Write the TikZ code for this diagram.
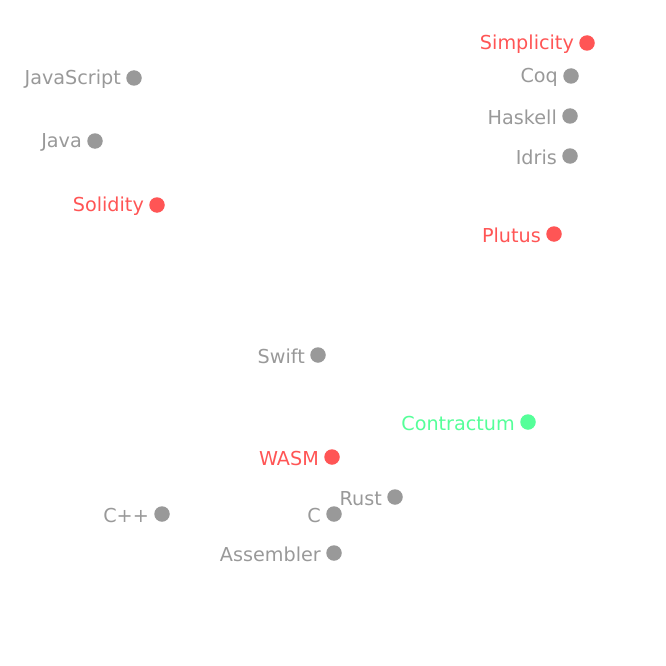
\documentclass[tikz,border=0pt]{standalone}
\usepackage{fontspec}
\setmainfont{DejaVu Sans}
\usetikzlibrary{positioning}
\definecolor{lgGray}{RGB}{153,153,153}
\definecolor{lgRed}{RGB}{255,85,85}
\definecolor{lgGreen}{RGB}{85,255,153}
\tikzset{
  dot/.style={circle, fill=#1, inner sep=0pt, minimum size=15.5pt},
  lbl/.style={text=#1, font=\fontsize{19.2}{21}\selectfont, inner sep=0pt, anchor=east, yshift=-1.5pt}
}

\begin{document}
\begin{tikzpicture}[x=1pt, y=-1pt]
  \useasboundingbox (0,0) rectangle (666,666);

  % upper left
  \node[dot=lgGray] (js) at (134,78) {};
  \node[lbl=lgGray, left=5pt of js] (jsL) {JavaScript};
  \node[dot=lgGray] (java) at (95,141) {};
  \node[lbl=lgGray, left=5pt of java] (javaL) {Java};
  \node[dot=lgRed] (sol) at (157,205) {};
  \node[lbl=lgRed, left=5pt of sol] (solL) {Solidity};

  % upper right
  \node[dot=lgRed] (simp) at (587,43) {};
  \node[lbl=lgRed, left=5pt of simp] (simpL) {Simplicity};
  \node[dot=lgGray] (coq) at (571,76) {};
  \node[lbl=lgGray, left=5pt of coq] (coqL) {Coq};
  \node[dot=lgGray] (hask) at (570,116) {};
  \node[lbl=lgGray, left=5pt of hask] (haskL) {Haskell};
  \node[dot=lgGray] (idris) at (570,156) {};
  \node[lbl=lgGray, left=5pt of idris] (idrisL) {Idris};
  \node[dot=lgRed] (plut) at (554,234) {};
  \node[lbl=lgRed, left=5pt of plut] (plutL) {Plutus};

  % middle
  \node[dot=lgGray] (swift) at (318,355) {};
  \node[lbl=lgGray, left=5pt of swift] (swiftL) {Swift};
  \node[dot=lgGreen] (ctr) at (528,422) {};
  \node[lbl=lgGreen, left=5pt of ctr] (ctrL) {Contractum};
  \node[dot=lgRed] (wasm) at (332,457) {};
  \node[lbl=lgRed, left=5pt of wasm] (wasmL) {WASM};

  % lower
  \node[dot=lgGray] (rust) at (395,497) {};
  \node[lbl=lgGray, left=5pt of rust] (rustL) {Rust};
  \node[dot=lgGray] (cpp) at (162,514) {};
  \node[lbl=lgGray, left=5pt of cpp] (cppL) {C++};
  \node[dot=lgGray] (c) at (334,514) {};
  \node[lbl=lgGray, left=5pt of c] (cL) {C};
  \node[dot=lgGray] (asm) at (334,553) {};
  \node[lbl=lgGray, left=5pt of asm] (asmL) {Assembler};
\end{tikzpicture}
\end{document}
